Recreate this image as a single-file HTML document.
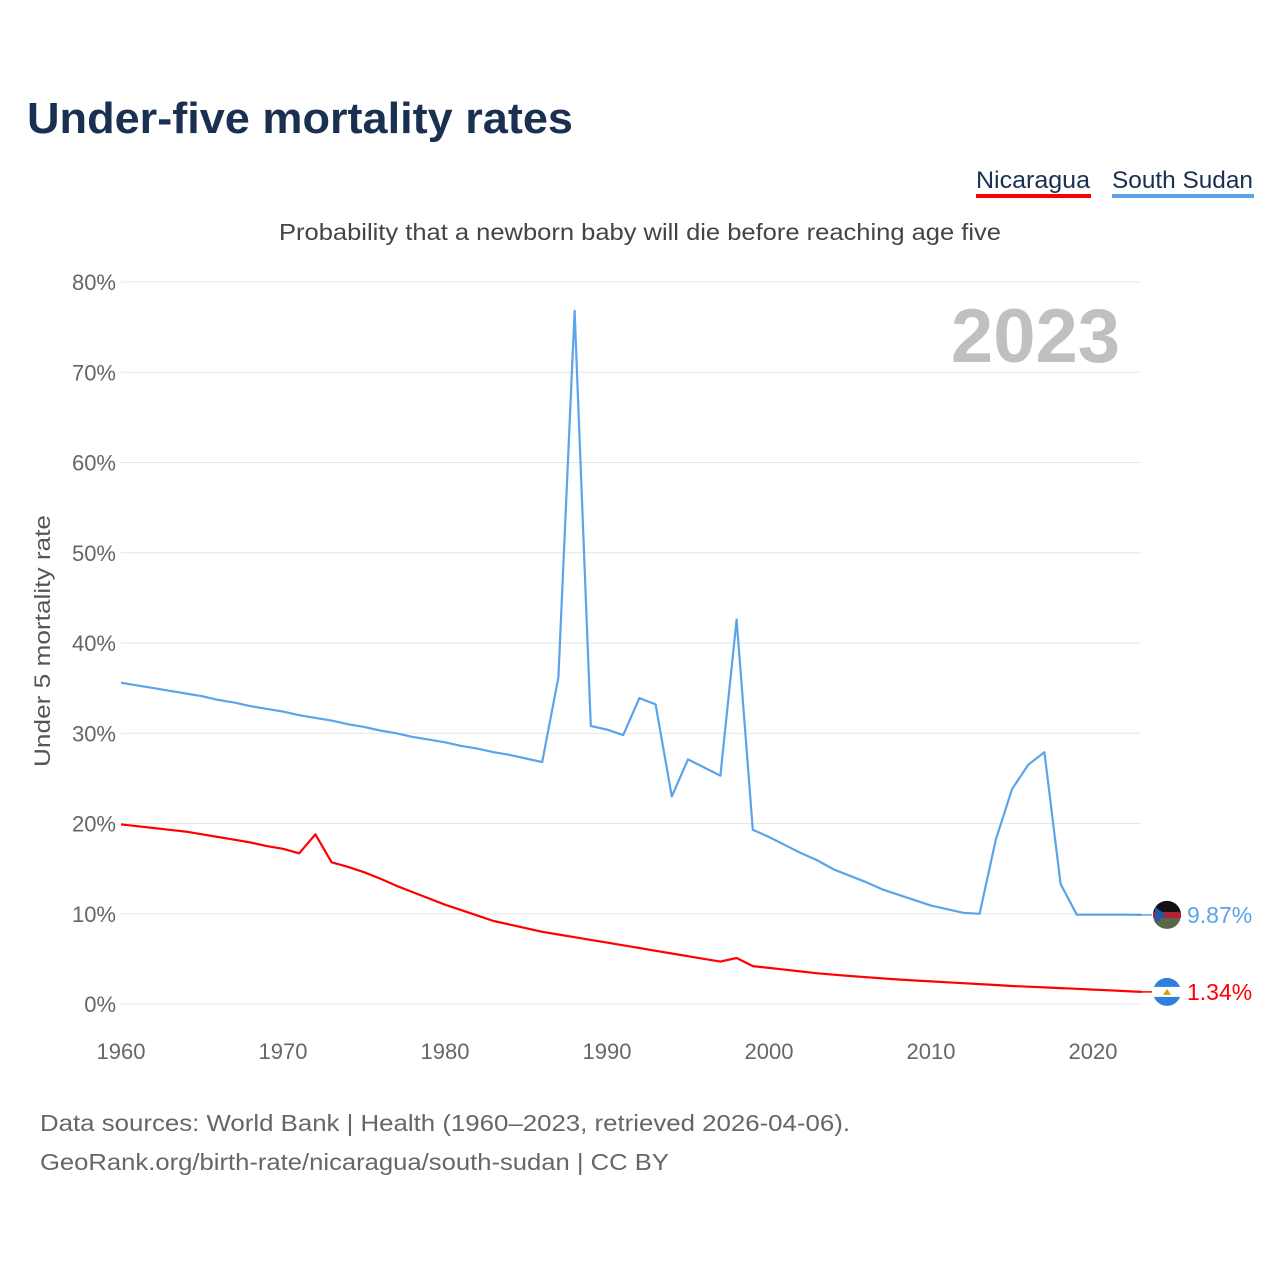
<!DOCTYPE html>
<html><head><meta charset="utf-8">
<style>
body{margin:0;background:#fff;font-family:"Liberation Sans",sans-serif;}
#wrap{position:relative;width:1280px;height:1280px;overflow:hidden;}
</style></head>
<body><div id="wrap">
<svg id="chart" width="1280" height="1280">
<text x="27" y="133" font-size="44" font-weight="bold" fill="#1a3050" textLength="546" lengthAdjust="spacingAndGlyphs">Under-five mortality rates</text>
<g>
<text x="976" y="188" font-size="24" fill="#1a3050" textLength="114" lengthAdjust="spacingAndGlyphs">Nicaragua</text>
<rect x="976" y="194" width="115" height="4" fill="#ff0000"/></g>
<g>
<text x="1112" y="188" font-size="24" fill="#1a3050" textLength="141" lengthAdjust="spacingAndGlyphs">South Sudan</text>
<rect x="1112" y="194" width="142" height="4" fill="#5ba3ea"/></g>
<text x="279" y="240" font-size="23" fill="#444" textLength="722" lengthAdjust="spacingAndGlyphs">Probability that a newborn baby will die before reaching age five</text>
<text x="1120" y="362" font-size="76" font-weight="bold" fill="#c0c0c0" text-anchor="end">2023</text>
<text transform="translate(50,767) rotate(-90)" font-size="22" fill="#555" textLength="252" lengthAdjust="spacingAndGlyphs">Under 5 mortality rate</text>
<g id="grid"></g><g id="series"></g><g id="ends"></g>
<text x="40" y="1131" font-size="23" fill="#666" textLength="810" lengthAdjust="spacingAndGlyphs">Data sources: World Bank | Health (1960–2023, retrieved 2026-04-06).</text>
<text x="40" y="1170" font-size="23" fill="#666" textLength="629" lengthAdjust="spacingAndGlyphs">GeoRank.org/birth-rate/nicaragua/south-sudan | CC BY</text>
</svg></div>
<script>
const years=[];for(let y=1960;y<=2023;y++)years.push(y);
const southSudan=[35.6,35.3,35.0,34.7,34.4,34.1,33.7,33.4,33.0,32.7,32.4,32.0,31.7,31.4,31.0,30.7,30.3,30.0,29.6,29.3,29.0,28.6,28.3,27.9,27.6,27.2,26.8,36.2,76.8,30.8,30.4,29.8,33.9,33.2,23.0,27.1,26.2,25.3,42.6,19.3,18.5,17.6,16.7,15.9,14.9,14.2,13.5,12.7,12.1,11.5,10.9,10.5,10.1,10.0,18.2,23.8,26.5,27.9,13.3,9.9,9.9,9.9,9.9,9.87];
const nicaragua=[19.9,19.7,19.5,19.3,19.1,18.8,18.5,18.2,17.9,17.5,17.2,16.7,18.8,15.7,15.2,14.6,13.9,13.1,12.4,11.7,11.0,10.4,9.8,9.2,8.8,8.4,8.0,7.7,7.4,7.1,6.8,6.5,6.2,5.9,5.6,5.3,5.0,4.7,5.1,4.2,4.0,3.8,3.6,3.4,3.25,3.1,2.97,2.84,2.72,2.6,2.5,2.4,2.3,2.2,2.1,2.0,1.92,1.84,1.76,1.68,1.6,1.52,1.43,1.34];
const yTicks=[0,10,20,30,40,50,60,70,80];
const xTicks=[1960,1970,1980,1990,2000,2010,2020];
const X=y=>121+(y-1960)*(1093-121)/60;
const Y=v=>1004-v*(1004-282)/80;
const NS="http://www.w3.org/2000/svg";
function mk(t,a,p){const e=document.createElementNS(NS,t);for(const k in a)e.setAttribute(k,a[k]);p.appendChild(e);return e;}
const grid=document.getElementById('grid');
yTicks.forEach(t=>{
 const l=mk('line',{x1:121,x2:1141,y1:Y(t),y2:Y(t),stroke:'#e6e6e6','stroke-width':1},grid);
 
 
 const tx=mk('text',{x:116,y:Y(t)+8,'font-size':22,fill:'#666','text-anchor':'end'},grid);tx.textContent=t+'%';
 
 
});
xTicks.forEach(t=>{
 const tx=mk('text',{x:X(t),y:1059,'font-size':22,fill:'#666','text-anchor':'middle'},grid);tx.textContent=t;
 
 
});
const s=document.getElementById('series');
function line(vals,col,name){
 const p=mk('path',{d:vals.map((v,i)=>(i?'L':'M')+X(years[i]).toFixed(1)+','+Y(v).toFixed(1)).join(''),fill:'none',stroke:col,'stroke-width':2.2,'stroke-linejoin':'round'},s);
 
 
}
line(southSudan,'#5ba3ea','south-sudan-line');
line(nicaragua,'#ff0000','nicaragua-line');
const e=document.getElementById('ends');
function end(vals,col,name,flag){
 const v=vals[vals.length-1],y=Y(v);
 mk('line',{x1:1141,x2:1152,y1:y,y2:y,stroke:col,'stroke-width':1.5},e);
 const g=mk('g',{},e);
 
 
 if(flag==='south-sudan-flag'){
  mk('circle',{cx:1167,cy:y,r:14,fill:'#5b6648'},g);
  mk('path',{d:`M1153,${y} a14,14 0 0 1 28,0 Z`,fill:'#111'},g);
  mk('rect',{x:1153,y:y-3,width:28,height:6,fill:'#b22234'},g);
  mk('path',{d:`M1155,${y-8} L1166,${y} L1155,${y+8}Z`,fill:'#1a5bb0'},g);
 }else{
  mk('circle',{cx:1167,cy:y,r:14,fill:'#2f80e0'},g);
  mk('rect',{x:1153,y:y-5,width:28,height:10,fill:'#fff'},g);
  mk('path',{d:`M1163,${y+3} L1167,${y-3} L1171,${y+3}Z`,fill:'#c8a800'},g);
 }
 const t=mk('text',{x:1187,y:y+8,'font-size':23,fill:col},e);t.textContent=v.toFixed(2)+'%';
 
 
}
end(southSudan,'#5ba3ea','south-sudan-end-label','south-sudan-flag');
end(nicaragua,'#ff0000','nicaragua-end-label','nicaragua-flag');
</script>
</body></html>
